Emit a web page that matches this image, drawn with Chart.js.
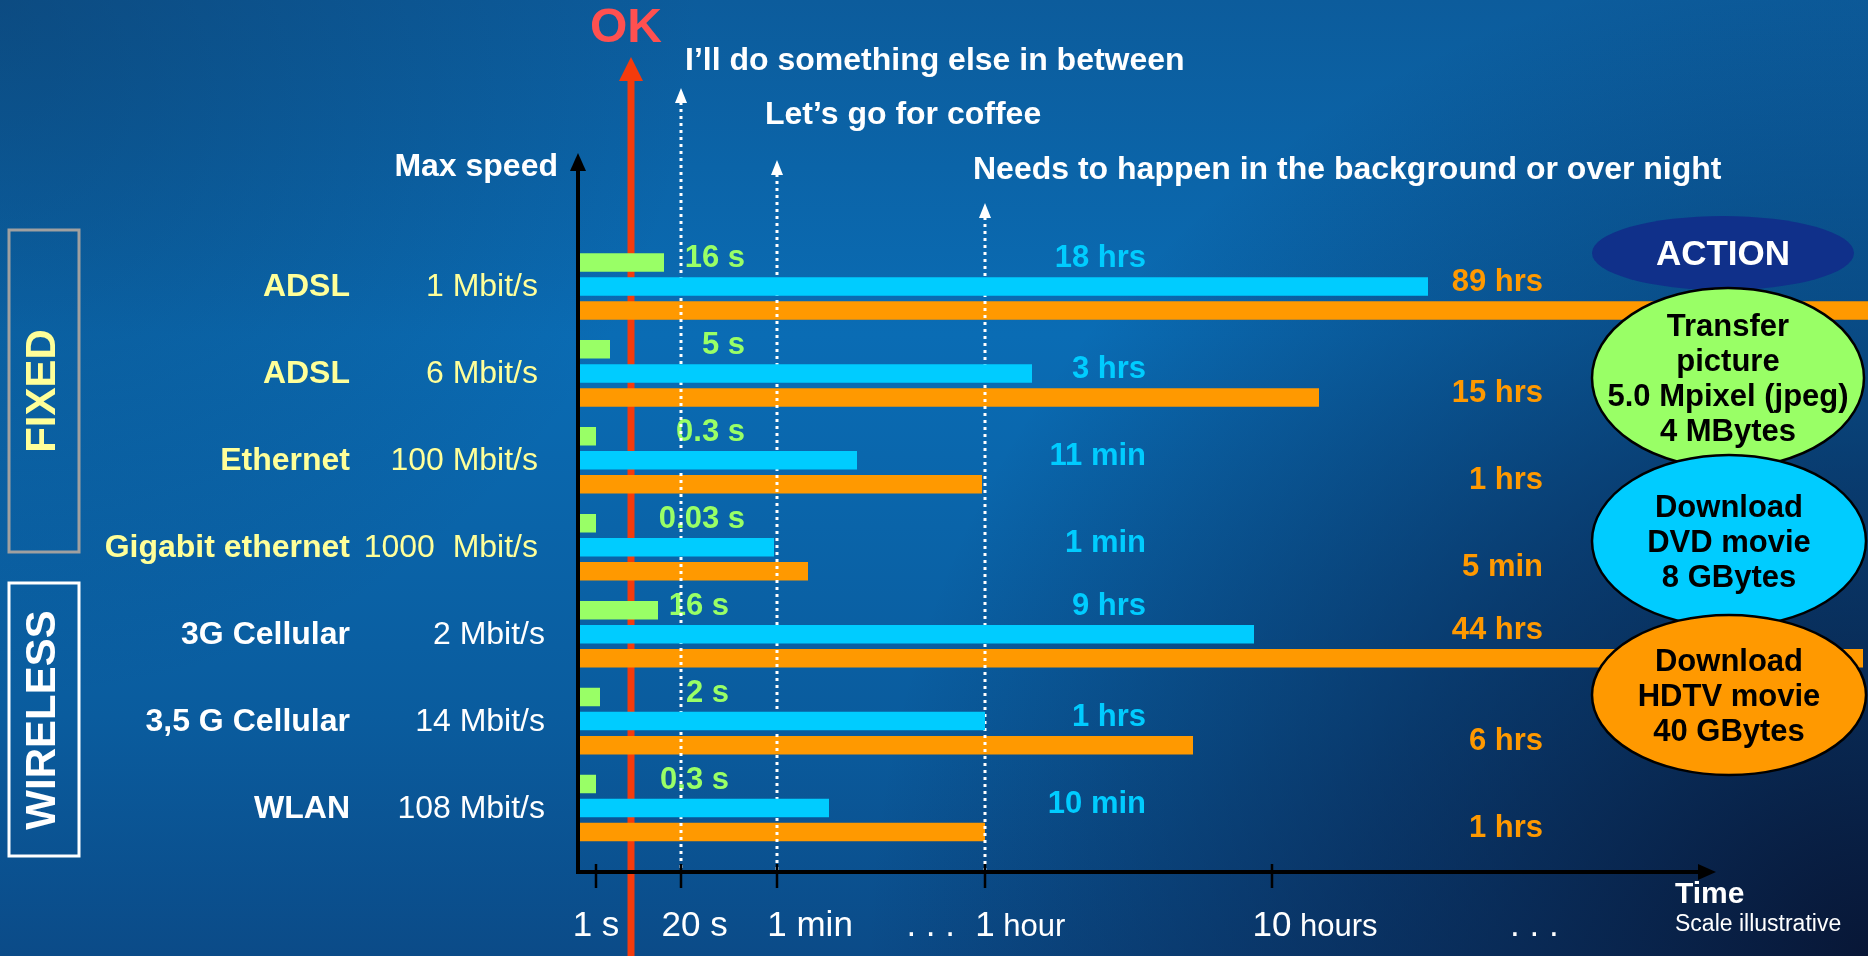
<!DOCTYPE html>
<html>
<head>
<meta charset="utf-8">
<script src="https://cdn.jsdelivr.net/npm/chart.js@4.4.0/dist/chart.umd.min.js"></script>
<style>
html,body{margin:0;padding:0;background:#0a5f9f;overflow:hidden}
canvas{display:block}
</style>
</head>
<body>
<canvas id="c" width="1868" height="956"></canvas>
<script>

// access technologies
let techs=["ADSL","ADSL","Ethernet","Gigabit ethernet","3G Cellular","3,5 G Cellular","WLAN"]
let speeds=["1 Mbit/s","6 Mbit/s","100 Mbit/s","1000  Mbit/s","2 Mbit/s","14 Mbit/s","108 Mbit/s"]
let fixedCount=4

// bar length on the illustrative time scale
let pictureLen=[8.4,3.0,1.6,1.6,7.8,2.0,1.6]
let dvdLen=[84.8,45.2,27.7,19.4,67.4,40.5,24.9]
let hdtvLen=[140,73.9,40.2,22.8,128.3,61.3,40.5]

// times written next to the bars
let pictureTime=["16 s","5 s","0.3 s","0.03 s","16 s","2 s","0.3 s"]
let dvdTime=["18 hrs","3 hrs","11 min","1 min","9 hrs","1 hrs","10 min"]
let hdtvTime=["89 hrs","15 hrs","1 hrs","5 min","44 hrs","6 hrs","1 hrs"]

// time axis
let tickPos=[1.6,10.1,19.7,40.5,69.2]
let tickNum=["1","20","1","1","10"]
let tickUnit=[" s"," s"," min"," hour"," hours"]
let okPos=5.1
let axisEnd=113.6
let scaleMax=128.8

// dotted guides (20 s, 1 min, 1 hour)
let guidePos=[10.1,19.7,40.5]
let guideText=["I\u2019ll do something else in between","Let\u2019s go for coffee","Needs to happen in the background or over night"]

let actions=[
["Transfer","picture","5.0 Mpixel (jpeg)","4 MBytes"],
["Download","DVD movie","8 GBytes"],
["Download","HDTV movie","40 GBytes"]
]

const F="'Liberation Sans', Arial, sans-serif"
const GREEN="#99ff66",BLUE="#00ccff",ORANGE="#ff9900"
const YEL="#ffff99"

function font(w,s){return w+" "+s+"px "+F}

function tri(c,x1,y1,x2,y2,x3,y3){
c.beginPath()
c.moveTo(x1,y1);c.lineTo(x2,y2);c.lineTo(x3,y3)
c.closePath();c.fill()
}

const bg={
id:"bg",
beforeDraw(chart){
let c=chart.ctx,W=chart.width,H=chart.height
c.save()
let g=c.createLinearGradient(0,0,0,H)
g.addColorStop(0,"#0c5c9c")
g.addColorStop(0.35,"#0a6cb4")
g.addColorStop(0.75,"#0a5c9e")
g.addColorStop(1,"#0b4b88")
c.fillStyle=g;c.fillRect(0,0,W,H)
let r=c.createRadialGradient(W,H,0,W,H,1000)
r.addColorStop(0,"rgba(8,20,50,0.95)")
r.addColorStop(0.5,"rgba(8,28,66,0.55)")
r.addColorStop(1,"rgba(8,28,66,0)")
c.fillStyle=r;c.fillRect(0,0,W,H)
let r2=c.createRadialGradient(0,0,0,0,0,700)
r2.addColorStop(0,"rgba(12,50,90,0.4)")
r2.addColorStop(1,"rgba(12,50,90,0)")
c.fillStyle=r2;c.fillRect(0,0,W,H)
c.restore()
}
}

const deco={
id:"deco",

beforeDatasetsDraw(chart){
// red "OK" line
let c=chart.ctx,x=chart.scales.x.getPixelForValue(okPos)
c.save()
c.strokeStyle="#f53b0c";c.lineWidth=7
c.beginPath();c.moveTo(x,78);c.lineTo(x,chart.height);c.stroke()
c.fillStyle="#f53b0c"
tri(c,x,57,x-12,81,x+12,81)
c.font=font("bold",48);c.fillStyle="#ff5050"
c.textAlign="center";c.textBaseline="middle"
c.fillText("OK",x-5,29)
c.restore()
},

afterDatasetDraw(chart,args){
if(args.index!==2) return
let c=chart.ctx,xs=chart.scales.x
c.save()

// times next to bars
let sets=[[pictureTime,GREEN,[745,729]],[dvdTime,BLUE,[1146,1146]],[hdtvTime,ORANGE,[1543,1543]]]
c.font=font("bold",31);c.textAlign="right";c.textBaseline="middle"
sets.forEach((s,d)=>{
let meta=chart.getDatasetMeta(d)
c.fillStyle=s[1]
s[0].forEach((t,i)=>{
let el=meta.data[i]
let rx=s[2][i<fixedCount?0:1]
let y=el.y-4
let w=c.measureText(t).width
if(el.x>rx-w-6) y-=el.height/0.77
c.fillText(t,rx,y)
})
})

// dotted guides
let tops=[88,160,203],ty=[61,115,170],tdx=[4,-12,-12]
guidePos.forEach((p,i)=>{
let x=xs.getPixelForValue(p)
c.strokeStyle="#fff";c.lineWidth=3;c.setLineDash([3,4])
c.beginPath();c.moveTo(x,tops[i]+14);c.lineTo(x,872);c.stroke()
c.setLineDash([])
c.fillStyle="#fff"
tri(c,x,tops[i],x-6,tops[i]+15,x+6,tops[i]+15)
c.font=font("bold",32);c.textAlign="left";c.textBaseline="middle"
c.fillText(guideText[i],x+tdx[i],ty[i])
})
c.restore()
},

afterDatasetsDraw(chart){
let c=chart.ctx,xs=chart.scales.x,ys=chart.scales.y
let ax=chart.chartArea.left-2,ay=872
c.save()

// axes
c.strokeStyle="#000";c.fillStyle="#000";c.lineWidth=4
c.beginPath();c.moveTo(ax,ay+2);c.lineTo(ax,168);c.stroke()
tri(c,ax,153,ax-8,171,ax+8,171)
let xe=xs.getPixelForValue(axisEnd)
c.beginPath();c.moveTo(ax-2,ay);c.lineTo(xe-15,ay);c.stroke()
tri(c,xe,ay,xe-18,ay-8,xe-18,ay+8)

// ticks and tick labels
c.lineWidth=2.5
tickPos.forEach((p,i)=>{
let x=xs.getPixelForValue(p)
c.beginPath();c.moveTo(x,864);c.lineTo(x,888);c.stroke()
c.fillStyle="#fff";c.textBaseline="alphabetic";c.textAlign="left"
let small=/hour/.test(tickUnit[i])
c.font=font("normal",35)
let nw=c.measureText(tickNum[i]).width
c.font=font("normal",small?31:35)
let uw=c.measureText(tickUnit[i]).width
// first label sits centred on its tick, the others have the number on the tick
let x0=i===0?x-(nw+uw)/2:x-nw/2
c.font=font("normal",35)
c.fillText(tickNum[i],x0,936)
c.font=font("normal",small?31:35)
c.fillText(tickUnit[i],x0+nw,936)
})
c.font=font("normal",35);c.textAlign="right"
c.fillText(". . .",xs.getPixelForValue(tickPos[3])-30,936)
c.textAlign="left"
c.fillText(". . .",xs.getPixelForValue(tickPos[4])+238,936)

c.font=font("bold",30);c.fillText("Time",1675,903)
c.font=font("normal",23);c.fillText("Scale illustrative",1675,931)

// axis caption
c.font=font("bold",32);c.textAlign="right";c.textBaseline="middle"
c.fillText("Max speed",558,167)

// technology labels
techs.forEach((t,i)=>{
let y=ys.getPixelForValue(i)+1
let fixed=i<fixedCount
c.fillStyle=fixed?YEL:"#fff"
c.font=font("bold",32);c.textAlign="right"
c.fillText(t,350,y)
c.font=font("normal",32)
c.fillText(speeds[i],fixed?538:545,y)
})

// group boxes
c.lineWidth=3
c.strokeStyle="#a0a0a0";c.strokeRect(9,230,70,322)
c.strokeStyle="#fff";c.strokeRect(9,583,70,273)
c.font=font("bold",42);c.textAlign="center"
c.save();c.translate(43,391);c.rotate(-Math.PI/2);c.fillStyle=YEL;c.fillText("FIXED",0,0);c.restore()
c.save();c.translate(43,720);c.rotate(-Math.PI/2);c.fillStyle="#fff";c.fillText("WIRELESS",0,0);c.restore()

// action bubbles
c.fillStyle="#10308a"
c.beginPath();c.ellipse(1723,253,131,37,0,0,Math.PI*2);c.fill()
c.fillStyle="#fff";c.font=font("bold",35)
c.fillText("ACTION",1723,255)

let bub=[[1728,378,136,90,GREEN],[1729,541,137,86,BLUE],[1729,695,137,80,ORANGE]]
bub.forEach((b,i)=>{
c.fillStyle=b[4];c.strokeStyle="#000";c.lineWidth=2.5
c.beginPath();c.ellipse(b[0],b[1],b[2],b[3],0,0,Math.PI*2);c.fill();c.stroke()
c.fillStyle="#000";c.font=font("bold",31)
let lines=actions[i],n=lines.length
lines.forEach((l,k)=>{
c.fillText(l,b[0],b[1]+2+(k-(n-1)/2)*35)
})
})

c.restore()
}
}

new Chart(document.getElementById("c"),{
type:"bar",
data:{
labels:techs,
datasets:[
{label:"Transfer picture",data:pictureLen,backgroundColor:GREEN,categoryPercentage:0.829,barPercentage:0.77},
{label:"Download DVD movie",data:dvdLen,backgroundColor:BLUE,categoryPercentage:0.829,barPercentage:0.77},
{label:"Download HDTV movie",data:hdtvLen,backgroundColor:ORANGE,categoryPercentage:0.829,barPercentage:0.77}
]
},
options:{
indexAxis:"y",
responsive:false,
animation:false,
devicePixelRatio:1,
layout:{padding:{left:580,right:0,top:243,bottom:104.5}},
scales:{
x:{type:"linear",min:0,max:scaleMax,display:false},
y:{display:false}
},
plugins:{legend:{display:false},tooltip:{enabled:false}}
},
plugins:[bg,deco]
})

</script>
</body>
</html>
